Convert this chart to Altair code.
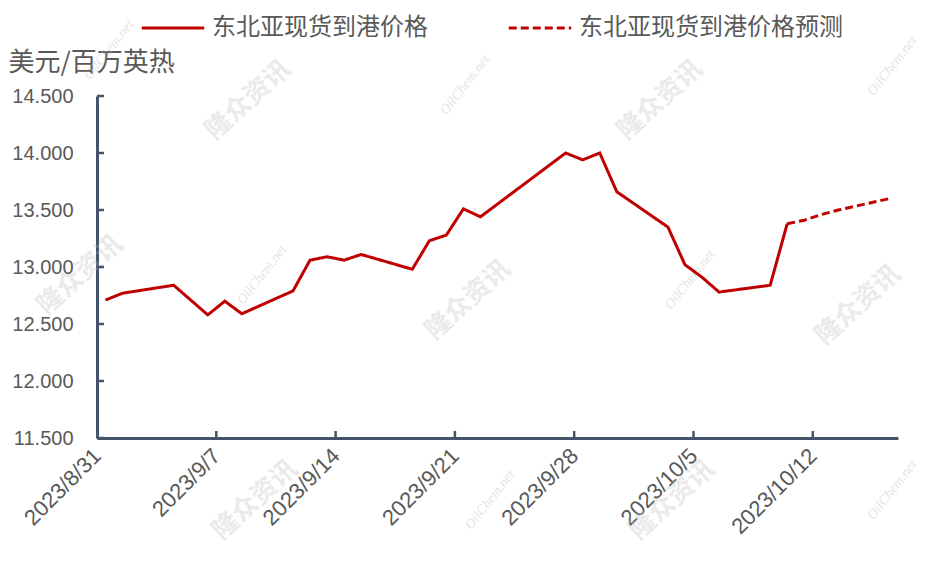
import altair as alt
import pandas as pd

# ---- data ----
dates = ["2023-08-31", "2023-09-01", "2023-09-04", "2023-09-06", "2023-09-07",
         "2023-09-08", "2023-09-11", "2023-09-12", "2023-09-13", "2023-09-14",
         "2023-09-15", "2023-09-18", "2023-09-19", "2023-09-20", "2023-09-21",
         "2023-09-22", "2023-09-27", "2023-09-28", "2023-09-29", "2023-09-30",
         "2023-10-03", "2023-10-04", "2023-10-05", "2023-10-06", "2023-10-09",
         "2023-10-10"]
price = [12.71, 12.77, 12.84, 12.58, 12.70,
         12.59, 12.79, 13.06, 13.09, 13.06,
         13.11, 12.98, 13.23, 13.28, 13.51,
         13.44, 14.00, 13.94, 14.00, 13.66,
         13.35, 13.02, 12.91, 12.78, 12.84,
         13.38]
fc_dates = ["2023-10-10", "2023-10-11", "2023-10-12", "2023-10-13", "2023-10-16"]
fc_price = [13.38, 13.41, 13.46, 13.50, 13.60]

series_names = ["东北亚现货到港价格", "东北亚现货到港价格预测"]
x_tick_dates = ["2023-08-31", "2023-09-07", "2023-09-14", "2023-09-21",
                "2023-09-28", "2023-10-05", "2023-10-12"]
x_tick_labels = ["2023/8/31", "2023/9/7", "2023/9/14", "2023/9/21",
                 "2023/9/28", "2023/10/5", "2023/10/12"]
y_ticks = [11.5, 12.0, 12.5, 13.0, 13.5, 14.0, 14.5]
y_title = "美元/百万英热"
axis_end_date = "2023-10-17"

# watermark texts (decoration, pixel placement relative to plot area)
wm_cn_text = "隆众资讯"
wm_en_text = "OilChem.net"
wm_cn_pos = [(151, 4), (563, 4), (-17, 179), (371, 204), (761, 209), (158, 404), (575, 404)]
wm_en_pos = [(12, -46), (368, -11), (795, -30), (593, 184), (393, 404), (795, 394), (165, 179)]

# ---- build tables ----
start = pd.Timestamp(x_tick_dates[0])


def day_index(ds):
    return [(pd.Timestamp(d) - start).days for d in ds]


# Excel date axis: each day occupies one slot, points drawn at the slot centre
df = pd.DataFrame({
    "d": [v + 0.5 for v in day_index(dates)] + [v + 0.5 for v in day_index(fc_dates)],
    "v": price + fc_price,
    "s": [series_names[0]] * len(dates) + [series_names[1]] * len(fc_dates),
})
tick_days = day_index(x_tick_dates)
end_day = day_index([axis_end_date])[0]

xticks_df = pd.DataFrame({"d": tick_days[1:]})
yticks_df = pd.DataFrame({"v": y_ticks})

AXIS_COL = "#44546A"
LINE_COL = "#C00000"
LABEL_COL = "#595959"
CJK = "Noto Sans CJK SC"
NUM = "Liberation Sans"

xs = alt.Scale(domain=[0, end_day], nice=False, zero=False)
ys = alt.Scale(domain=[y_ticks[0], y_ticks[-1]], nice=False, zero=False)

label_expr = "{}[indexof({}, datum.value)]".format(
    "[" + ",".join("'%s'" % l for l in x_tick_labels) + "]",
    "[" + ",".join(str(v) for v in tick_days) + "]",
)

x_axis = alt.Axis(values=tick_days, labelExpr=label_expr, title=None, grid=False,
                  ticks=False, domainColor=AXIS_COL, domainWidth=3,
                  labelAngle=-45, labelAlign="right", labelBaseline="middle",
                  labelPadding=14, labelFont=NUM, labelFontSize=22,
                  labelColor=LABEL_COL, labelOverlap=False)
y_axis = alt.Axis(values=y_ticks, format=".3f", title=y_title, grid=False,
                  ticks=False, domainColor=AXIS_COL, domainWidth=3,
                  labelPadding=24, labelFont=NUM, labelFontSize=20,
                  labelColor=LABEL_COL,
                  titleAngle=0, titleAlign="left", titleBaseline="middle",
                  titleX=-89, titleY=-34, titleFont=CJK, titleFontSize=26,
                  titleFontWeight="normal", titleColor=LABEL_COL)

legend = alt.Legend(title=None, orient="none", legendX=43, legendY=-101,
                    direction="horizontal", symbolType="stroke",
                    symbolSize=3900, symbolStrokeWidth=3, columnPadding=74,
                    labelFont=CJK, labelFontSize=24, labelColor=LABEL_COL,
                    labelOffset=6, labelLimit=500, symbolStrokeColor=LINE_COL)

wm_layers = []
for (px, py) in wm_cn_pos:
    wm_layers.append(
        alt.Chart(pd.DataFrame({"t": [wm_cn_text]})).mark_text(
            font=CJK, fontSize=26, fontWeight="bold", angle=318,
            color="#BBBBBB", opacity=0.3, align="center", baseline="middle"
        ).encode(text="t:N", x=alt.value(px), y=alt.value(py))
    )
for (px, py) in wm_en_pos:
    wm_layers.append(
        alt.Chart(pd.DataFrame({"t": [wm_en_text]})).mark_text(
            font="Liberation Serif", fontSize=14, fontStyle="italic", angle=308,
            color="#BBBBBB", opacity=0.4, align="center", baseline="middle"
        ).encode(text="t:N", x=alt.value(px), y=alt.value(py))
    )

lines = alt.Chart(df).mark_line(strokeWidth=3).encode(
    x=alt.X("d:Q", scale=xs, axis=x_axis),
    y=alt.Y("v:Q", scale=ys, axis=y_axis),
    color=alt.Color("s:N", scale=alt.Scale(domain=series_names,
                                           range=[LINE_COL, LINE_COL]),
                    legend=legend),
    strokeDash=alt.StrokeDash("s:N", scale=alt.Scale(domain=series_names,
                                                     range=[[1, 0], [8, 4]]),
                              legend=legend),
)

xtick_marks = alt.Chart(xticks_df).mark_rule(color=AXIS_COL, strokeWidth=2.5).encode(
    x=alt.X("d:Q", scale=xs),
    y=alt.value(335),
    y2=alt.value(342),
)
ytick_marks = alt.Chart(yticks_df).mark_rule(color=AXIS_COL, strokeWidth=2.5).encode(
    y=alt.Y("v:Q", scale=ys),
    x=alt.value(0),
    x2=alt.value(7),
)

chart = alt.layer(*wm_layers, lines, xtick_marks, ytick_marks).properties(
    width=801,
    height=342,
    padding={"left": 89, "top": 88, "right": 34, "bottom": 126},
    autosize=alt.AutoSizeParams(type="none"),
    background="white",
).configure_view(stroke=None)

chart.save("out.html", embed_options={"renderer": "svg", "actions": False})
